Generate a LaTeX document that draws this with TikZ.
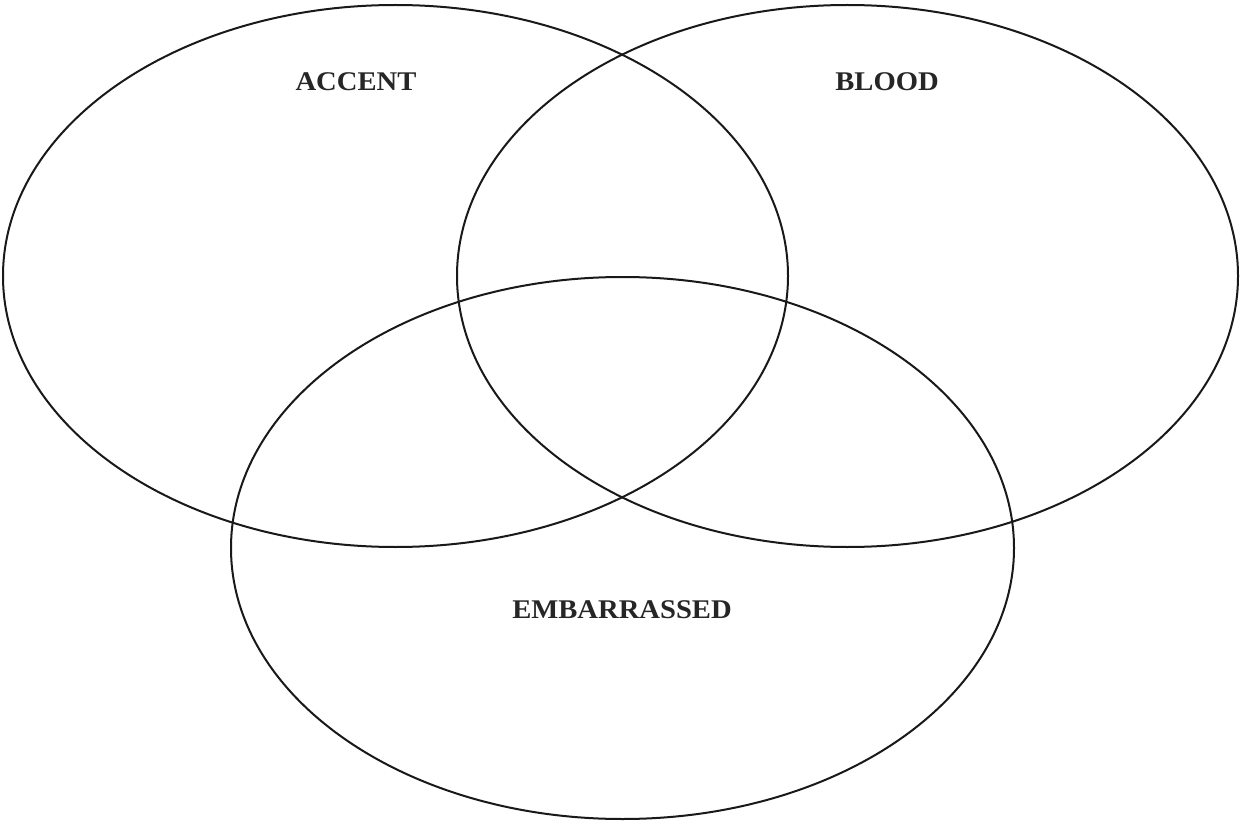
\documentclass[tikz,border=0pt]{standalone}
\usepackage{fontspec}
\setmainfont{Liberation Serif}
\begin{document}
\begin{tikzpicture}[x=1pt,y=-1pt,
  setline/.style={draw=black!90,line width=2pt},
  setlabel/.style={font=\fontsize{27}{31}\selectfont\bfseries,text=black!85,xscale=1.06,inner sep=0pt}]
\useasboundingbox (0,0) rectangle (1240,821);
\draw[setline] (395.5,276) ellipse [x radius=392.5,y radius=271];
\draw[setline] (847.5,276) ellipse [x radius=390.5,y radius=271];
\draw[setline] (622.5,548) ellipse [x radius=391.5,y radius=271];
\node[setlabel] (accent) at (356,82) {ACCENT};
\node[setlabel] (blood) at (887,82) {BLOOD};
\node[setlabel] (emb) at (622,610) {EMBARRASSED};
\end{tikzpicture}
\end{document}
